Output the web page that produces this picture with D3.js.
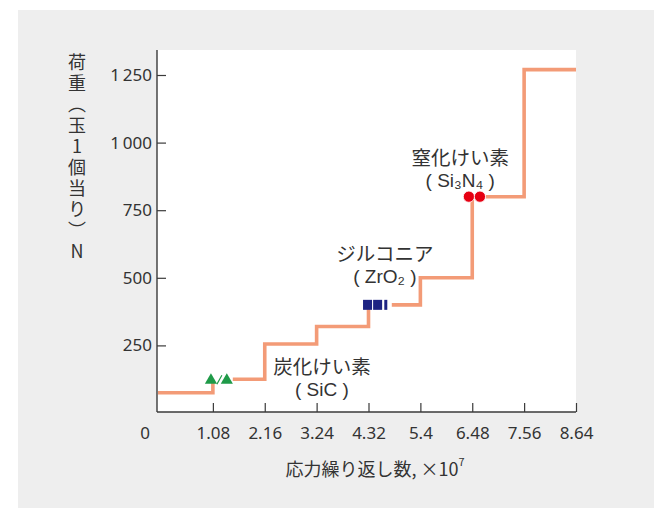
<!DOCTYPE html>
<html>
<head>
<meta charset="utf-8">
<script src="https://cdn.jsdelivr.net/npm/d3@7"></script>
<style>
  body { margin: 0; background: #fff; }
  svg text { font-family: "Noto Sans CJK JP", "Noto Sans", sans-serif; fill: #333; }
</style>
</head>
<body>
<div id="chart"></div>
<script>
// DATA
const stepEdges = [0, 1.08, 2.16, 3.24, 4.32, 5.4, 6.48, 7.56, 8.64]; // x10^7 cycles
const stepLoads = [75, 125, 255, 320, 400, 500, 800, 1270]; // N per ball
const xTicks = [0, 1.08, 2.16, 3.24, 4.32, 5.4, 6.48, 7.56, 8.64];
const yTicks = [250, 500, 750, 1000, 1250];
const sicCycles = [1.04, 1.37];
const sicLoad = 125;
const zrCycles = [4.3, 4.51];
const zrBarCycles = [4.68];
const zrLoad = 400;
const snCycles = [6.41, 6.64];
const snLoad = 800;

const W = 654, H = 508;
const LINE = "#f39b77", AXIS = "#3a3a3a";
const LATIN = "'Liberation Sans', 'DejaVu Sans', sans-serif";

const svg = d3.select("#chart").append("svg")
  .attr("width", W).attr("height", H);

// BACKGROUND
svg.append("rect").attr("x", 18).attr("y", 10)
  .attr("width", W - 18).attr("height", H - 10).attr("fill", "#eeeeee");

// SCALE
const x = d3.scaleLinear().domain([0, 8.64]).range([161, 576]);
const y = d3.scaleLinear().domain([0, 1250]).range([413, 75]);
const axisX = x(0) - 4;
const plotTop = 50, plotBottom = 412;

svg.append("rect")
  .attr("x", axisX).attr("y", plotTop)
  .attr("width", x(8.64) - axisX).attr("height", plotBottom - plotTop)
  .attr("fill", "#fff");

// AXIS
const yAxis = svg.append("g")
  .attr("transform", `translate(${axisX}, 0)`)
  .call(d3.axisRight(y).tickValues(yTicks).tickSize(9)
    .tickFormat((d) => d3.format(",")(d).replace(",", "\u2009")))
  .call((g) => g.select(".domain").remove());
yAxis.selectAll(".tick line").attr("stroke", AXIS).attr("stroke-width", 1.2);
yAxis.selectAll(".tick text")
  .attr("x", -5).attr("text-anchor", "end")
  .attr("font-size", "17px").attr("fill", "#333")
  .style("font-family", "'Noto Sans', sans-serif");

const xAxis = svg.append("g")
  .attr("transform", `translate(0, ${plotBottom})`)
  .call(d3.axisTop(x).tickValues(xTicks.slice(1)).tickSize(9).tickFormat((d) => d))
  .call((g) => g.select(".domain").remove());
xAxis.selectAll(".tick line").attr("stroke", AXIS).attr("stroke-width", 1.2);
xAxis.selectAll(".tick text")
  .attr("y", 15).attr("dy", "0.71em")
  .attr("font-size", "17px").attr("fill", "#333")
  .style("font-family", "'Noto Sans', sans-serif");
svg.append("text")
  .attr("x", x(xTicks[0]) - 16).attr("y", plotBottom + 15).attr("dy", "0.71em")
  .attr("text-anchor", "middle").attr("font-size", "17px")
  .style("font-family", "'Noto Sans', sans-serif")
  .text(xTicks[0]);

svg.append("line")
  .attr("x1", axisX).attr("x2", axisX).attr("y1", plotTop).attr("y2", plotBottom)
  .attr("stroke", AXIS).attr("stroke-width", 1.4);
svg.append("line")
  .attr("x1", axisX).attr("x2", x(8.64)).attr("y1", plotBottom).attr("y2", plotBottom)
  .attr("stroke", AXIS).attr("stroke-width", 1.4);

// STEP LINE
const stepPts = stepLoads.map((v, i) => [stepEdges[i], v]);
stepPts.push([stepEdges[stepEdges.length - 1], stepLoads[stepLoads.length - 1]]);
svg.append("path")
  .datum(stepPts)
  .attr("fill", "none")
  .attr("stroke", LINE)
  .attr("stroke-width", 3.6)
  .attr("d", d3.line()
    .x((d, i) => (i === 0 ? axisX + 1 : x(d[0])))
    .y((d) => y(d[1]))
    .curve(d3.curveStepAfter));

// white gap under each marker group
function mask(cycles, load) {
  svg.append("line")
    .attr("x1", x(d3.min(cycles)) - 5).attr("x2", x(d3.max(cycles)) + 6)
    .attr("y1", y(load)).attr("y2", y(load))
    .attr("stroke", "#fff").attr("stroke-width", 6);
}
mask(sicCycles, sicLoad);
mask(zrCycles.concat(zrBarCycles), zrLoad);
mask(snCycles, snLoad);

// MARKERS
svg.selectAll(".sic")
  .data(sicCycles).enter().append("path")
  .attr("class", "sic")
  .attr("transform", (d) => `translate(${x(d)}, ${y(sicLoad) + 1})`)
  .attr("d", d3.symbol(d3.symbolTriangle, 64)())
  .attr("fill", "#1f9a48");
svg.append("line")
  .attr("x1", x(d3.mean(sicCycles)) - 2).attr("x2", x(d3.mean(sicCycles)) + 3)
  .attr("y1", y(sicLoad) + 5).attr("y2", y(sicLoad) - 4)
  .attr("stroke", "#1f9a48").attr("stroke-width", 1.2);

svg.selectAll(".zr")
  .data(zrCycles).enter().append("rect")
  .attr("class", "zr")
  .attr("x", (d) => x(d) - 4.5).attr("y", y(zrLoad) - 5)
  .attr("width", 9).attr("height", 10)
  .attr("fill", "#1d2383");
svg.selectAll(".zrbar")
  .data(zrBarCycles).enter().append("rect")
  .attr("class", "zrbar")
  .attr("x", (d) => x(d) - 1.5).attr("y", y(zrLoad) - 5)
  .attr("width", 3).attr("height", 10)
  .attr("fill", "#1d2383");

svg.selectAll(".sn")
  .data(snCycles).enter().append("circle")
  .attr("class", "sn")
  .attr("cx", (d) => x(d)).attr("cy", y(snLoad))
  .attr("r", 5.6)
  .attr("fill", "#e60012").attr("stroke", "#fff").attr("stroke-width", 0.8);

// LABELS
function label(cx, load, line1, line2) {
  svg.append("text")
    .attr("x", x(cx)).attr("y", y(load))
    .attr("text-anchor", "middle").attr("dominant-baseline", "central")
    .attr("font-size", "19.5px").text(line1);
  svg.append("text")
    .attr("x", x(cx)).attr("y", y(load) + 24)
    .attr("text-anchor", "middle").attr("dominant-baseline", "central")
    .attr("font-size", "19px")
    .style("font-family", LATIN)
    .text(line2);
}
label(3.35, 174, "炭化けい素", "( SiC )");
label(4.66, 592, "ジルコニア", "( ZrO\u2082 )");
label(6.23, 947, "窒化けい素", "( Si\u2083N\u2084 )");

// Y TITLE (vertical writing)
svg.append("text")
  .attr("x", 77).attr("y", 53)
  .style("writing-mode", "vertical-rl")
  .style("text-orientation", "upright")
  .style("letter-spacing", "3px")
  .attr("font-size", "18px")
  .text("荷重（玉1個当り）N");

// X TITLE
const xt = svg.append("text")
  .attr("x", 375).attr("y", 468)
  .attr("text-anchor", "middle").attr("dominant-baseline", "central")
  .attr("font-size", "18px");
xt.append("tspan").text("応力繰り返し数, ×10");
xt.append("tspan").attr("font-size", "11px").attr("dy", "-0.6em").text("7");
</script>
</body>
</html>
